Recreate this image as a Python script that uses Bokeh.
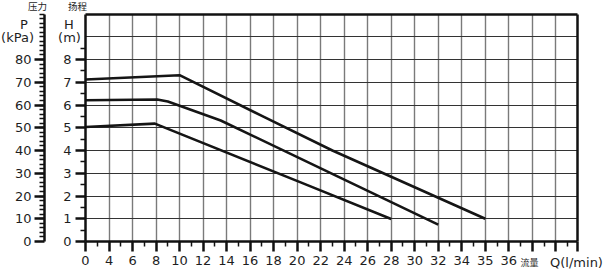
import numpy as np
from bokeh.plotting import figure
from bokeh.models import (Range1d, LinearAxis, FixedTicker, Label, Grid)
from bokeh.embed import file_html
from bokeh.resources import INLINE

# ---- data ----
q_tick_values = [0, 4, 6, 8, 10, 12, 14, 16, 18, 20, 22, 24, 26, 28, 30, 32, 34, 35, 36]
q_tick_labels = ["0", "4", "6", "8", "10", "12", "14", "16", "18", "20", "22", "24",
                 "26", "28", "30", "32", "34", "35", "36"]
h_ticks = [0, 1, 2, 3, 4, 5, 6, 7, 8]
p_ticks = [0, 10, 20, 30, 40, 50, 60, 70, 80]

top_q = [0, 10, 17, 23, 35]
top_h = [7.12, 7.31, 5.52, 4.0, 1.0]
mid_q = [0, 8.1, 9.0, 13.5, 32]
mid_h = [6.21, 6.24, 6.15, 5.32, 0.74]
bot_q = [0, 7.9, 20.3, 28]
bot_h = [5.03, 5.18, 2.6, 0.99]

n_cols = 21          # number of grid columns on the flow scale
h_top = 10           # top of head scale (m)
cols = list(range(len(q_tick_values)))


def qcol(q):
    return list(np.interp(q, q_tick_values, cols))


# ---- layout (pixels) ----
W, H = 611, 271
PX_X0, PX_COL = 85.0, 23.515      # x pixel of column 0, pixels per column
PX_XEND = 577.0                    # right border
PX_Y0, PX_UNIT = 241.0, 22.75      # y pixel of H=0, pixels per metre
PX_PAXIS = 44.0                    # x pixel of pressure axis


def dx(px):
    return (px - PX_X0) / PX_COL


def dy(py):
    return (PX_Y0 - py) / PX_UNIT


x_end = dx(PX_XEND)

FONT = "DejaVu Sans"
CJK = "Noto Sans CJK SC"
TXT = "#1e1e1e"
INK = "#111111"

p = figure(width=W, height=H, output_backend="svg", toolbar_location=None,
           x_range=Range1d(dx(0), dx(W)), y_range=Range1d(dy(H), dy(0)),
           x_axis_location=None, y_axis_location=None,
           min_border=0, min_border_left=0, min_border_right=0,
           min_border_top=0, min_border_bottom=0,
           background_fill_color="white", border_fill_color="white")
p.outline_line_color = None
p.extra_y_ranges = {"p": Range1d(dy(H) * 10, dy(0) * 10)}
p.grid.visible = False

# grid lines (limited to the chart box)
vticks = list(range(1, n_cols))
hticks = list(range(1, h_top))
try:
    gx = Grid(dimension=0, ticker=FixedTicker(ticks=vticks), cross_bounds=(0, h_top),
              grid_line_color="#7a7a7a", grid_line_width=1.4)
    gy = Grid(dimension=1, ticker=FixedTicker(ticks=hticks), cross_bounds=(0, x_end),
              grid_line_color="#333333", grid_line_width=1.2)
    p.add_layout(gx)
    p.add_layout(gy)
except Exception:
    p.segment(x0=vticks, y0=[0] * len(vticks), x1=vticks, y1=[h_top] * len(vticks),
              line_color="#7a7a7a", line_width=1.4)
    p.segment(x0=[0] * len(hticks), y0=hticks, x1=[x_end] * len(hticks), y1=hticks,
              line_color="#333333", line_width=1.2)


def style_axis(ax, standoff):
    ax.axis_line_width = 2.5
    ax.axis_line_color = INK
    ax.major_tick_in = 0
    ax.major_tick_out = 10
    ax.minor_tick_in = 0
    ax.minor_tick_out = 5
    ax.major_tick_line_width = 2.5
    ax.minor_tick_line_width = 1.5
    ax.major_tick_line_color = INK
    ax.minor_tick_line_color = INK
    ax.major_label_standoff = standoff
    ax.major_label_text_font = FONT
    ax.major_label_text_font_size = "13px"
    ax.major_label_text_color = TXT


# x axis (flow)
xa = LinearAxis(fixed_location=0, bounds=(0, x_end),
                ticker=FixedTicker(ticks=list(range(n_cols)) + [x_end],
                                   minor_ticks=[i + 0.5 for i in range(n_cols)]))
overrides = {i: "" for i in range(n_cols)}
for i, lab in enumerate(q_tick_labels):
    overrides[i] = lab
overrides[x_end] = ""
xa.major_label_overrides = overrides
style_axis(xa, 4)
p.add_layout(xa, "below")

# H axis
ya = LinearAxis(fixed_location=0, bounds=(0, h_top),
                ticker=FixedTicker(ticks=h_ticks, minor_ticks=[i + 0.5 for i in range(9)]))
style_axis(ya, 4)
p.add_layout(ya, "left")

# P axis
pa = LinearAxis(y_range_name="p", fixed_location=dx(PX_PAXIS), bounds=(0, h_top * 10),
                ticker=FixedTicker(ticks=p_ticks, minor_ticks=list(range(2, 101, 2))))
style_axis(pa, 3)
p.add_layout(pa, "left")

# top and right border of the chart box
ta = LinearAxis(fixed_location=h_top, bounds=(0, x_end), ticker=FixedTicker(ticks=[]))
ta.axis_line_width = 2.5
ta.axis_line_color = INK
p.add_layout(ta, "above")
ra = LinearAxis(fixed_location=x_end, bounds=(0, h_top), ticker=FixedTicker(ticks=[]))
ra.axis_line_width = 2.5
ra.axis_line_color = INK
p.add_layout(ra, "right")

# curves
for qs, hs in [(top_q, top_h), (mid_q, mid_h), (bot_q, bot_h)]:
    p.line(qcol(qs), hs, line_color="#151515", line_width=2.6, line_join="round")


# texts
def lab(text, px, py, size, font=FONT):
    p.add_layout(Label(x=dx(px), y=dy(py), text=text, text_font=font,
                       text_font_size=size, text_color=TXT, text_align="center",
                       text_baseline="middle"))


lab("压力", 37, 5, "9.5px", CJK)
lab("扬程", 77, 5, "9.5px", CJK)
lab("P", 23.5, 24, "13px")
lab("(kPa)", 17, 37, "13px")
lab("H", 68.5, 24, "13px")
lab("(m)", 69, 37, "13px")
lab("流量", 529, 262, "9px", CJK)
lab("Q(l/min)", 576, 262, "13px")

open("out.html", "w").write(file_html(p, INLINE))
